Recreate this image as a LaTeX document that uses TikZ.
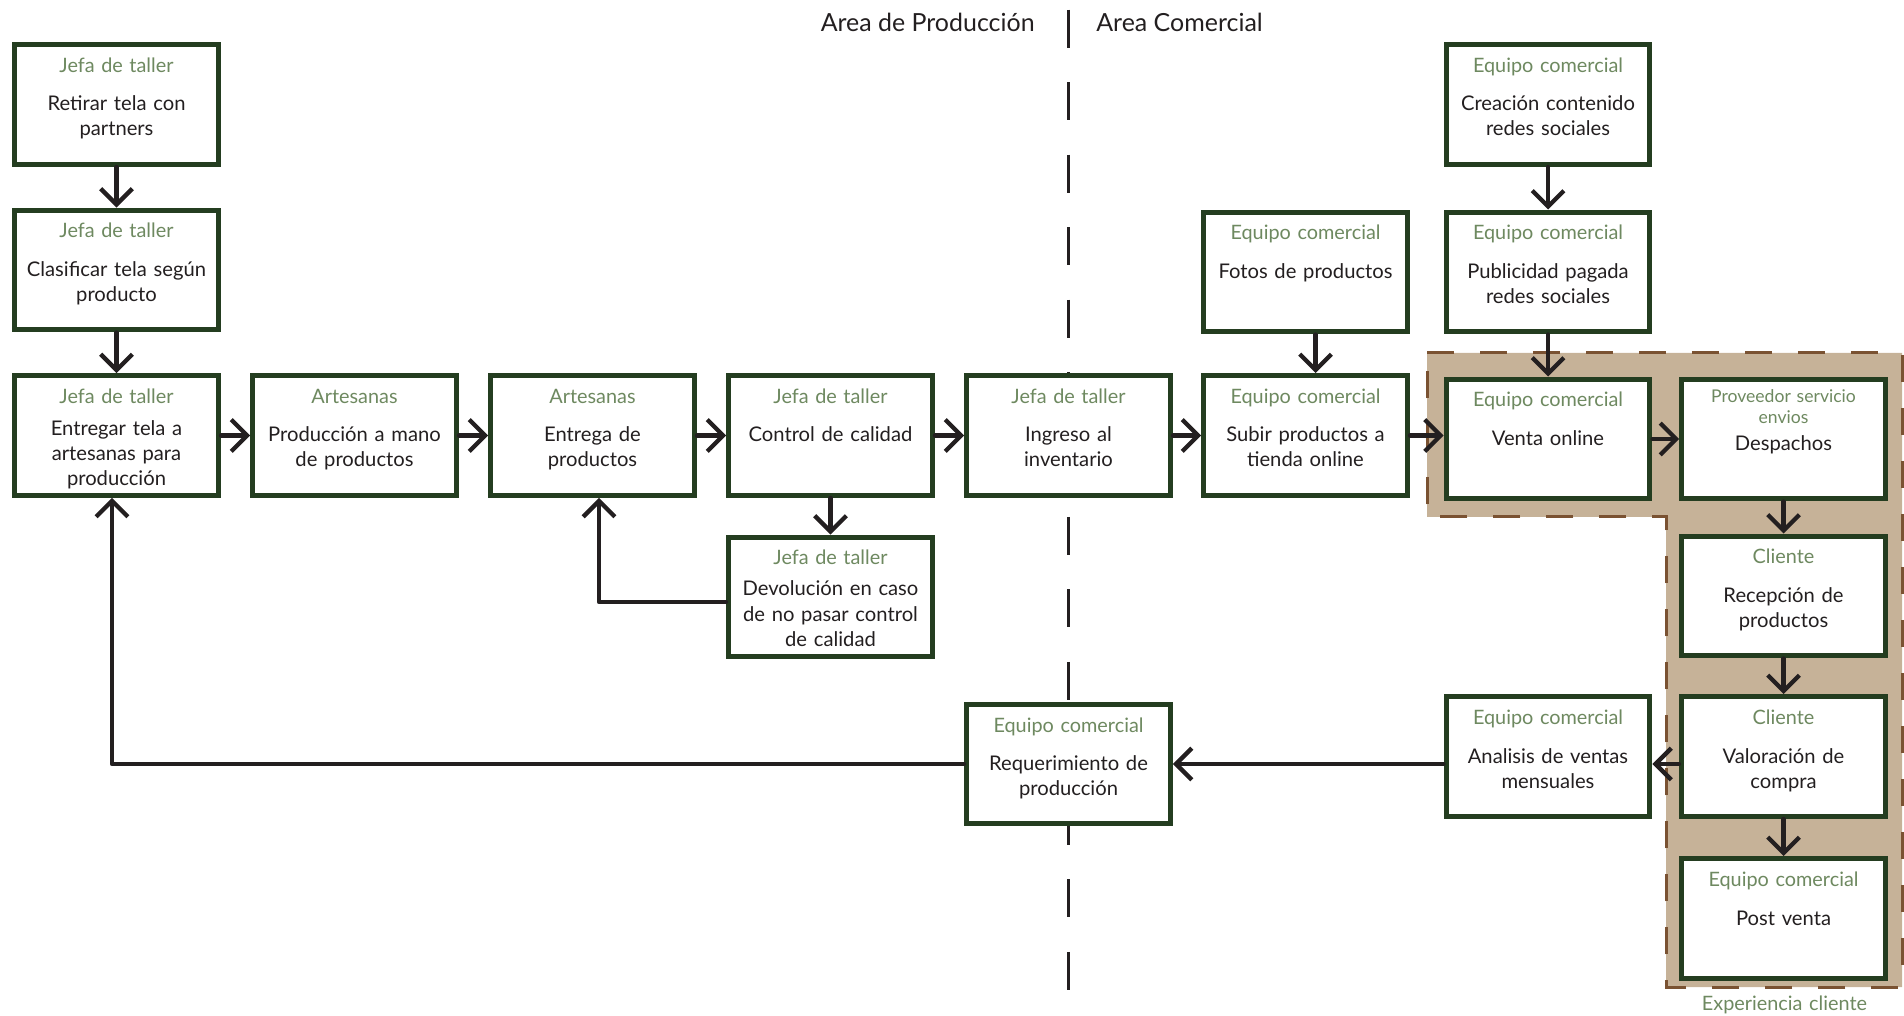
\documentclass[tikz,border=0pt]{standalone}
\usepackage{fontspec}
\setmainfont{Lato}
\usepackage{tikz}
\usetikzlibrary{arrows.meta,calc,positioning}
\definecolor{cajaclr}{RGB}{36, 61, 32}
\definecolor{rolclr}{RGB}{110, 137, 96}
\definecolor{txtclr}{RGB}{35, 31, 32}
\definecolor{zonaclr}{RGB}{198, 178, 152}
\definecolor{zonaborde}{RGB}{122, 82, 50}
\tikzset{
  caja/.style   = {draw=cajaclr, line width=0.1cm, fill=white,
                   minimum width=4.08cm, minimum height=2.4cm, inner sep=0pt},
  rol/.style    = {anchor=base, text=rolclr, text width=4cm, align=center,
                   inner sep=0pt, font=\fontsize{11.3}{13.5}\selectfont},
  desc/.style   = {anchor=base, text=txtclr, text width=4cm, align=center,
                   inner sep=0pt, font=\fontsize{11.5}{14.23}\selectfont},
  flecha/.style = {-{Straight Barb[length=9pt,width=18pt]}, line width=0.085cm,
                   draw=txtclr, line cap=round, line join=round},
  area/.style   = {text=txtclr, inner sep=0pt, font=\fontsize{14.2}{16}\selectfont},
  zona/.style   = {fill=zonaclr, draw=zonaborde, line width=0.06cm,
                   dash pattern=on 0.54cm off 0.52cm},
  divisor/.style= {draw=txtclr, line width=0.06cm, dash pattern=on 0.76cm off 0.69cm},
}
% box with role on top and task below
\newcommand{\tarea}[5][6.5]{%
  \node[caja] (#2) at (#3) {};
  \node[rol] (#2rol) at ($(#2.center)+(0,-32)$) {#4};
  \node[desc] (#2txt) at ($(#2.center)+(0,#1)$) {#5};
}

\begin{document}
\begin{tikzpicture}[x=0.02cm, y=-0.02cm]
        \useasboundingbox (0,0) rectangle (1904,1016);
        % -- Experiencia cliente zone ----------------------------------
        \draw[zona] (1427,353) -- (1902,353) -- (1902,987) -- (1666,987)
            -- (1666,517) -- (1427,517) -- cycle;
        \node[rol] (explbl) at (1784.5,1010) {Experiencia cliente};

        % -- Areas -----------------------------------------------------
        \draw[divisor] (1068.5,9.6) -- (1068.5,1016);
        \node[area, anchor=base east] (hprod) at (1035,32) {Area de Producción};
        \node[area, anchor=base west] (hcom) at (1096,32) {Area Comercial};

        % -- Production ------------------------------------------------
        \tarea{ret}{116.5,104.5}{Jefa de taller}{Retirar tela con\\partners}
        \tarea{cla}{116.5,270}{Jefa de taller}{Clasificar tela según\\producto}
        \tarea[0]{ent}{116.5,435.5}{Jefa de taller}{Entregar tela a\\artesanas para\\producción}
        \tarea{pro}{354.5,435.5}{Artesanas}{Producción a mano\\de productos}
        \tarea{entp}{592.5,435.5}{Artesanas}{Entrega de\\productos}
        \tarea{con}{830.5,435.5}{Jefa de taller}{Control de calidad}
        \tarea[-1]{dev}{830.5,597}{Jefa de taller}{Devolución en caso\\de no pasar control\\de calidad}
        \tarea{ing}{1068.5,435.5}{Jefa de taller}{Ingreso al\\inventario}

        % -- Commercial ------------------------------------------------
        \tarea{fot}{1305.5,272}{Equipo comercial}{Fotos de productos}
        \tarea{sub}{1305.5,435.5}{Equipo comercial}{Subir productos a\\tienda online}
        \tarea{cre}{1548,104.5}{Equipo comercial}{Creación contenido\\redes sociales}
        \tarea{pub}{1548,272}{Equipo comercial}{Publicidad pagada\\redes sociales}
        \tarea{ven}{1548,439}{Equipo comercial}{Venta online}
        \node[caja] (des) at (1783.5,439) {};
        \node[rol, font=\fontsize{10}{11.7}\selectfont] (desrol) at ($(des.center)+(0,-36)$)
            {Proveedor servicio\\envios};
        \node[desc] (destxt) at ($(des.center)+(0,12)$) {Despachos};
        \tarea{rec}{1783.5,596}{Cliente}{Recepción de\\productos}
        \tarea{val}{1783.5,756.5}{Cliente}{Valoración de\\compra}
        \tarea{pos}{1783.5,918.5}{Equipo comercial}{Post venta}
        \tarea{ana}{1548,756.5}{Equipo comercial}{Analisis de ventas\\mensuales}
        \tarea{req}{1068.5,764}{Equipo comercial}{Requerimiento de\\producción}

        % -- Flow ------------------------------------------------------
        \draw[flecha] (ret) -- (cla);
        \draw[flecha] (cla) -- (ent);
        \foreach \a/\b in {ent/pro, pro/entp, entp/con, con/ing, ing/sub}{
            \draw[flecha] (\a) -- (\b);
        }
        \draw[flecha] (sub.east) -- (sub.east -| ven.west);
        \draw[flecha] (ven) -- (des);
        \draw[flecha] ([xshift=0.2cm]fot.south) -- ([xshift=0.2cm]sub.north);
        \draw[flecha] (cre) -- (pub);
        \draw[flecha] (pub) -- (ven);
        \draw[flecha] (con) -- (dev);
        \draw[flecha] ([yshift=-0.1cm]dev.west) -| ([xshift=0.13cm]entp.south);
        \foreach \a/\b in {des/rec, rec/val, val/pos}{
            \draw[flecha] (\a) -- (\b);
        }
        \draw[flecha] ([yshift=-0.15cm]val.west) -- ([yshift=-0.15cm]ana.east);
        \draw[flecha] (ana.west |- req.east) -- (req.east);
        \draw[flecha] (req.west) -| ([xshift=-0.09cm]ent.south);
    \end{tikzpicture}
\end{document}
